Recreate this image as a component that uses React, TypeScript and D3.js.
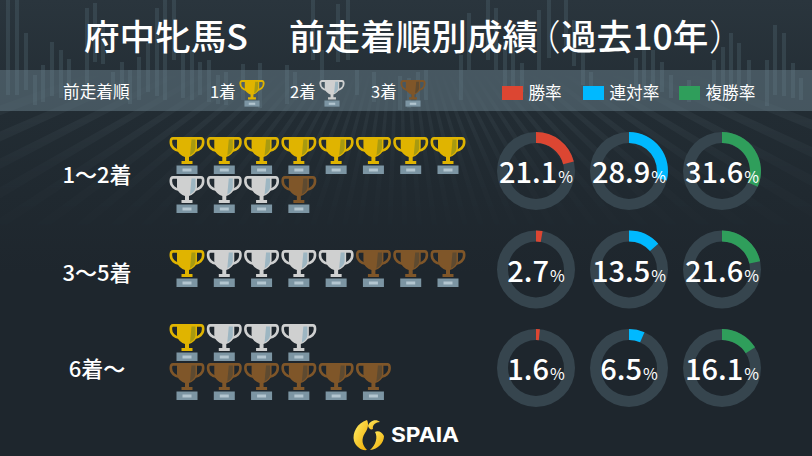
import React from "react";
import * as d3 from "d3";

const W = 812, H = 456;
const titleLeft = "府中牝馬S";
const titleRight = "前走着順別成績";
const titleMiddle = "過去10年";
const rowLabels = ["1〜2着", "3〜5着", "6着〜"];
const trophyRows: number[][][] = [
  [[1,1,1,1,1,1,1,1],[2,2,2,3]],
  [[1,2,2,2,2,3,3,3]],
  [[1,2,2,2],[3,3,3,3,3,3]],
];
const winRate = [21.1, 2.7, 1.6];
const placeRate = [28.9, 13.5, 6.5];
const showRate = [31.6, 21.6, 16.1];
const rateColors = ["#dc4632", "#00b9ff", "#2f9e5b"];
const legendNames = ["勝率", "連対率", "複勝率"];
const podiumLegend = ["1着", "2着", "3着"];
const trophyColors: Record<number,{c:string,s:string}> = {
  1:{c:"#e0b400",s:"#a89a10"},
  2:{c:"#cfd0d0",s:"#9db6c2"},
  3:{c:"#7f5629",s:"#5e4a30"},
};
// background candles: slot position, high, low
const candleX = [8,17,26,35,43,52,61,69,87,95,103,113,122,130,139,148,157,165,174,183,192,200,209,218,226,243,260,287,295,313,322,338,348,357,374,400,409,418,426,461,469,488,496,505,513,522,539,549,566,574,583,591,636,644,653,662,671,689,714,723,731,739,749,767,775,784,793,801];
const candleTop = [0,0,33,75,65,42,50,59,8,3,20,72,62,70,57,43,8,0,0,53,50,62,60,75,72,64,63,65,72,0,50,4,0,70,72,76,78,72,70,55,13,0,8,42,47,63,10,0,0,20,50,72,58,43,50,62,75,80,60,47,33,43,60,60,25,33,63,78];
const candleLow = [95,95,90,105,102,96,98,95,84,62,64,95,88,104,100,92,96,100,60,98,100,95,102,104,105,100,108,104,100,60,80,62,60,95,102,110,108,105,100,100,70,60,70,100,96,92,70,58,46,66,85,98,92,100,95,92,98,102,96,96,90,92,98,106,95,96,98,100];

function Trophy({x,y,s,k=1}:{x:number,y:number,s:number,k?:number}){
  const col = trophyColors[s];
  return <g transform={`translate(${x},${y}) scale(${k})`}>
    <path d="M-9,1.4 H-14 C-16,1.4 -16.2,3 -16.2,5 C-16.2,10 -12,13.5 -7,14 M9,1.4 H14 C16,1.4 16.2,3 16.2,5 C16.2,10 12,13.5 7,14" fill="none" stroke={col.c} strokeWidth="2.6"/>
    <path d="M-10,0 H10 V11 C10,16 5,19 2,20 V24 H5.5 V27 H-5.5 V24 H-2 V20 C-5,19 -10,16 -10,11 Z" fill={col.c}/>
    <path d="M4.5,2.5 H8.5 V11 C8.5,14 6,17 3,18.5 Z" fill={col.s}/>
    <rect x={-10.5} y={28.5} width={21} height={8.5} fill="#7c95a3"/>
    <rect x={-4.5} y={31.5} width={9} height={3} fill="#b3c6d0"/>
  </g>;
}

function Donut({cx,cy,v,color}:{cx:number,cy:number,v:number,color:string}){
  const arc = d3.arc();
  const bg = arc({innerRadius:28,outerRadius:39,startAngle:0,endAngle:2*Math.PI} as any)!;
  const fg = arc({innerRadius:28,outerRadius:39,startAngle:0,endAngle:v/100*2*Math.PI} as any)!;
  return <g transform={`translate(${cx},${cy})`}>
    <path d={bg} fill="#36454e"/>
    <path d={fg} fill={color}/>
    <text y={12} textAnchor="middle" fill="#fff" style={{fontFamily:"'Noto Sans CJK JP'",fontSize:29,fontWeight:500}}>
      {v.toFixed(1)}<tspan style={{fontSize:16,fontWeight:400}} dx="1">%</tspan>
    </text>
  </g>;
}

export default function App(){
  const xScale = d3.scaleLinear().domain([0,W]).range([0,W]);
  const colX = d3.scaleLinear().domain([0,7]).range([187,448]);
  const rowBase = [[137,176],[250],[324,363]];
  const donutX = [536,629,722];
  const donutY = d3.scalePoint<number>().domain([0,1,2]).range([171,368]);
  const rates = [winRate,placeRate,showRate];
  const jp = "'Noto Sans CJK JP'";
  const fan = d3.range(-70,70,3.2).map(a=>{
    const r=700, t=a*Math.PI/180, t2=(a+1.2)*Math.PI/180, ox=400, oy=-40;
    return `M${ox},${oy} L${ox+r*Math.sin(t)},${oy+r*Math.cos(t)} L${ox+r*Math.sin(t2)},${oy+r*Math.cos(t2)} Z`;
  }).join(" ");
  return <svg width={W} height={H} style={{position:"absolute",left:0,top:0,display:"block"}}>
    <defs>
      <linearGradient id="bg" x1="0" y1="0" x2="0" y2="1">
        <stop offset="0" stopColor="#2a353d"/><stop offset="0.25" stopColor="#222c33"/><stop offset="0.6" stopColor="#1e262d"/><stop offset="1" stopColor="#1e262d"/>
      </linearGradient>
      <linearGradient id="logo" x1="0" y1="0" x2="1" y2="1">
        <stop offset="0" stopColor="#fff06a"/><stop offset="1" stopColor="#efa900"/>
      </linearGradient>
      <linearGradient id="fanFade" x1="0" y1="0" x2="0" y2="1">
        <stop offset="0" stopColor="#fff" stopOpacity="0"/><stop offset="0.3" stopColor="#fff" stopOpacity="1"/><stop offset="0.55" stopColor="#fff" stopOpacity="0.45"/><stop offset="1" stopColor="#fff" stopOpacity="0"/>
      </linearGradient>
      <mask id="fanMask"><rect x={0} y={70} width={W} height={170} fill="url(#fanFade)"/></mask>
    </defs>
    <rect width={W} height={H} fill="url(#bg)"/>
    <path d={fan} fill="#8fa5b0" opacity={0.07} mask="url(#fanMask)"/>
    {candleX.map((x,i)=><rect key={i} x={xScale(x)-2} y={candleTop[i]} width={4} height={candleLow[i]-candleTop[i]} fill="#5b7582" opacity={0.27}/>)}
    <rect x={0} y={70} width={W} height={41} fill="#6c8490" opacity={0.48}/>
    <g fill="#fff" style={{fontFamily:jp,fontSize:35.6,fontWeight:500}}>
      <text x={84} y={50}>{titleLeft}</text>
      <text x={289} y={50}>{titleRight}</text>
      <text x={525} y={50} style={{fontWeight:300}}>（</text>
      <text x={561} y={50}>{titleMiddle}</text>
      <text x={709} y={50} style={{fontWeight:300}}>）</text>
    </g>
    <text x={63} y={98} fill="#fff" style={{fontFamily:jp,fontSize:16.7}}>前走着順</text>
    {podiumLegend.map((l,i)=>{
      const xs=[210,290,371];
      return <g key={l}><text x={xs[i]} y={98} fill="#fff" style={{fontFamily:jp,fontSize:16.5}}>{l}</text>
      <Trophy x={xs[i]+42} y={80} s={i+1} k={0.72}/></g>;
    })}
    {legendNames.map((l,i)=>{
      const xs=[502,583,679];
      return <g key={l}><rect x={xs[i]} y={86} width={21} height={14} fill={rateColors[i]}/>
      <text x={xs[i]+26.5} y={98.5} fill="#fff" style={{fontFamily:jp,fontSize:16.6}}>{l}</text></g>;
    })}
    {rowLabels.map((l,i)=><text key={l} x={97} y={[183,281,377][i]} textAnchor="middle" fill="#fff" style={{fontFamily:jp,fontSize:22,fontWeight:500}}>{l}</text>)}
    {trophyRows.map((rows,ri)=>rows.map((r,li)=>r.map((s,ci)=>
      <Trophy key={`${ri}-${li}-${ci}`} x={colX(ci)} y={rowBase[ri][li]} s={s}/>)))}
    {rates.map((arr,c)=>arr.map((v,r)=><Donut key={`${c}-${r}`} cx={donutX[c]} cy={donutY(r)!} v={v} color={rateColors[c]}/>))}
    <g transform="translate(353,419)">
      <path d="M14,1 C4,4 -1,14 1,22 C3,28 9,32 14,31 C9,26 8,20 12,14 C15,10 16,5 14,1 Z" fill="url(#logo)"/>
      <path d="M15,7 C16,2 23,-1 27,3 C23,3 19,6 20,10 C18,11 16,10 15,7 Z" fill="url(#logo)"/>
      <path d="M17,31 C25,30 31,24 31,17 C29,13 25,11 22,13 C25,18 23,26 17,31 Z" fill="url(#logo)"/>
    </g>
    <text x={391} y={442} fill="#fff" textLength={68} lengthAdjust="spacingAndGlyphs" style={{fontFamily:"Inter",fontSize:20,fontWeight:700}}>SPAIA</text>
  </svg>;
}
